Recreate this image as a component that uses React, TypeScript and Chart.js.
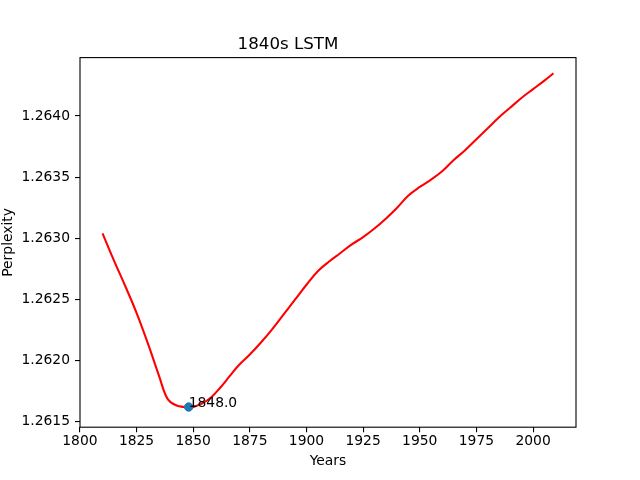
import { useEffect, useRef } from "react";
import { Chart, registerables } from "chart.js";

Chart.register(...registerables);

const years = [
  1810, 1815, 1820, 1825, 1830, 1835, 1838, 1840, 1843, 1846, 1848, 1850, 1854, 1858, 1862,
  1866, 1870, 1875, 1880, 1885, 1890, 1895, 1900, 1905, 1910, 1915, 1920, 1925, 1930, 1935,
  1940, 1945, 1950, 1955, 1960, 1965, 1970, 1975, 1980, 1985, 1990, 1995, 2000, 2005, 2009,
];
const perplexity = [
  1.26304, 1.26282, 1.26261, 1.26239, 1.26214, 1.26187, 1.26171, 1.26166, 1.26163, 1.26162,
  1.26161, 1.26162, 1.26165, 1.2617, 1.26178, 1.26187, 1.26196, 1.26205, 1.26215, 1.26226,
  1.26238, 1.2625, 1.26262, 1.26273, 1.26281, 1.26288, 1.26295, 1.26301, 1.26308, 1.26316,
  1.26325, 1.26335, 1.26342, 1.26348, 1.26355, 1.26364, 1.26372, 1.26381, 1.2639, 1.26399,
  1.26407, 1.26415, 1.26422, 1.26429, 1.26435,
];
const xTicks = [1800, 1825, 1850, 1875, 1900, 1925, 1950, 1975, 2000];
const yTicks = [1.2615, 1.262, 1.2625, 1.263, 1.2635, 1.264];

const markerYear = 1848;
const markerValue = 1.26162;
const markerLabel = "1848.0";

const FONT = "'DejaVu Sans', sans-serif";

// matplotlib-style box around the axes + the text annotation
const framePlugin = {
  id: "frame",
  afterDatasetsDraw(chart: Chart) {
    const { ctx, chartArea } = chart;
    const { left, top, right, bottom } = chartArea;
    ctx.save();
    ctx.strokeStyle = "#000";
    ctx.lineWidth = 1.1;
    ctx.strokeRect(left, top, right - left, bottom - top);

    const x = chart.scales.x.getPixelForValue(markerYear);
    const y = chart.scales.y.getPixelForValue(markerValue);
    ctx.fillStyle = "#000";
    ctx.font = `13.89px ${FONT}`;
    ctx.textAlign = "left";
    ctx.textBaseline = "alphabetic";
    ctx.fillText(markerLabel, x, y);
    ctx.restore();
  },
};

const App = () => {
  const canvasRef = useRef<HTMLCanvasElement>(null);
  const chartRef = useRef<Chart | null>(null);

  useEffect(() => {
    document.body.style.margin = "0";
    if (!canvasRef.current) return;
    if (chartRef.current) chartRef.current.destroy();

    const tickGrid = {
      display: true,
      drawOnChartArea: false,
      drawTicks: true,
      tickLength: 5,
      color: "#000",
      lineWidth: 1.1,
    };

    chartRef.current = new Chart(canvasRef.current, {
      type: "line",
      data: {
        datasets: [
          {
            type: "scatter",
            data: [{ x: markerYear, y: markerValue }],
            backgroundColor: "#1f77b4",
            borderColor: "#1f77b4",
            pointRadius: 4.2,
            order: 0,
          },
          {
            type: "line",
            data: years.map((yr, i) => ({ x: yr, y: perplexity[i] })),
            borderColor: "red",
            borderWidth: 2.08,
            pointRadius: 0,
            fill: false,
            tension: 0.4,
            order: 1,
          },
        ],
      },
      options: {
        animation: false,
        responsive: false,
        devicePixelRatio: 1,
        layout: { padding: { left: 0, right: 64, top: 0, bottom: 0 } },
        plugins: {
          legend: { display: false },
          tooltip: { enabled: false },
          title: {
            display: true,
            text: "1840s LSTM",
            color: "#000",
            font: { family: FONT, size: 16.67, weight: "normal" },
            padding: { top: 34.3, bottom: 3.3 },
          },
        },
        scales: {
          x: {
            type: "linear",
            min: 1800.05,
            max: 2018.95,
            grid: tickGrid,
            border: { display: false },
            afterFit: (scale: any) => {
              scale.height = 52.8;
            },
            afterBuildTicks: (scale: any) => {
              scale.ticks = xTicks.map((v) => ({ value: v }));
            },
            ticks: {
              color: "#000",
              padding: 1,
              maxRotation: 0,
              autoSkip: false,
              font: { family: FONT, size: 13.89 },
              callback: (v: any) => String(v),
            },
            title: {
              display: true,
              text: "Years",
              color: "#000",
              font: { family: FONT, size: 13.89 },
              padding: { top: 0, bottom: 10 },
            },
          },
          y: {
            type: "linear",
            min: 1.261455,
            max: 1.264478,
            grid: tickGrid,
            border: { display: false },
            afterFit: (scale: any) => {
              scale.width = 80;
            },
            afterBuildTicks: (scale: any) => {
              scale.ticks = yTicks.map((v) => ({ value: v }));
            },
            ticks: {
              color: "#000",
              padding: 5,
              autoSkip: false,
              font: { family: FONT, size: 13.89 },
              callback: (v: any) => Number(v).toFixed(4),
            },
            title: {
              display: true,
              text: "Perplexity",
              color: "#000",
              font: { family: FONT, size: 13.89 },
              padding: { top: 0.5, bottom: 0 },
            },
          },
        },
      },
      plugins: [framePlugin],
    });

    return () => {
      if (chartRef.current) {
        chartRef.current.destroy();
        chartRef.current = null;
      }
    };
  }, []);

  return (
    <div style={{ width: 640, height: 480, background: "#fff" }}>
      <canvas ref={canvasRef} width={640} height={480} />
    </div>
  );
};

export default App;
